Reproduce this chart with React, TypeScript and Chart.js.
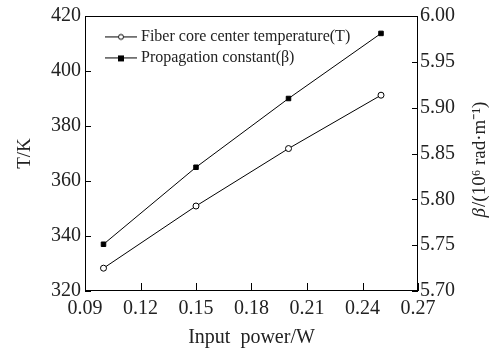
import React, { useEffect, useRef } from 'react';
import { Chart, registerables } from 'chart.js';

Chart.register(...registerables);

const inputPower = [0.1, 0.15, 0.2, 0.25];
const coreTemperature = [328.3, 350.9, 371.8, 391.2];
const propagationConstant = [5.751, 5.835, 5.91, 5.981];
const xTicks = [0.09, 0.12, 0.15, 0.18, 0.21, 0.24, 0.27];
const tTicks = [320, 340, 360, 380, 400, 420];
const betaTicks = [5.7, 5.75, 5.8, 5.85, 5.9, 5.95, 6.0];
const seriesLabels = ['Fiber core center temperature(T)', 'Propagation constant(β)'];
const xTitle = 'Input  power/W';
const leftTitle = 'T/K';
const rightTitleItalic = 'β';
const rightTitleRest = '/(10⁶ rad·m⁻¹)';

const SERIF = '"Liberation Serif", "Times New Roman", serif';
const LEGEND_PAD = 5;

function makeSample(kind: 'circle' | 'square') {
  const c = document.createElement('canvas');
  c.width = 32;
  c.height = 10;
  const g = c.getContext('2d')!;
  g.strokeStyle = '#000';
  g.lineWidth = 1;
  g.beginPath();
  g.moveTo(0, 5.5);
  g.lineTo(32, 5.5);
  g.stroke();
  if (kind === 'circle') {
    g.beginPath();
    g.arc(16, 5.5, 2.5, 0, Math.PI * 2);
    g.fillStyle = '#fff';
    g.fill();
    g.stroke();
  } else {
    g.fillStyle = '#000';
    g.fillRect(13, 3, 6, 6);
  }
  return c;
}

const legendShift = {
  id: 'legendShift',
  afterLayout(chart: any) {
    const L = chart.legend;
    if (!L) return;
    const dx = 104 - L.left;
    const dy = 38 - 9.6 - LEGEND_PAD - L.top;
    L.left += dx;
    L.right += dx;
    L.top += dy;
    L.bottom += dy;
  },
};

const framePlugin = {
  id: 'frame',
  afterDraw(chart: any) {
    const { ctx, chartArea } = chart;
    const { left, right, top, bottom } = chartArea;
    ctx.save();
    ctx.strokeStyle = '#000';
    ctx.lineWidth = 1;
    ctx.strokeRect(left + 0.5, top + 0.5, right - left - 1, bottom - top - 1);
    ctx.beginPath();
    const xs = chart.scales.x;
    xs.ticks.forEach((t: any) => {
      const px = Math.round(xs.getPixelForValue(t.value)) + 0.5;
      ctx.moveTo(px, bottom);
      ctx.lineTo(px, bottom - 8);
    });
    const ys = chart.scales.y;
    ys.ticks.forEach((t: any) => {
      const py = Math.round(ys.getPixelForValue(t.value)) + 0.5;
      ctx.moveTo(left, py);
      ctx.lineTo(left + 6, py);
    });
    const y1 = chart.scales.y1;
    y1.ticks.forEach((t: any) => {
      const py = Math.round(y1.getPixelForValue(t.value)) + 0.5;
      ctx.moveTo(right, py);
      ctx.lineTo(right - 6, py);
    });
    ctx.stroke();

    // right axis title, reading bottom-to-top
    ctx.translate(480, 160);
    ctx.rotate(-Math.PI / 2);
    ctx.fillStyle = '#222';
    ctx.textBaseline = 'middle';
    ctx.font = `italic 19px ${SERIF}`;
    const w1 = ctx.measureText(rightTitleItalic).width;
    ctx.font = `19px ${SERIF}`;
    const w2 = ctx.measureText(rightTitleRest).width;
    const start = -(w1 + w2) / 2;
    ctx.textAlign = 'left';
    ctx.font = `italic 19px ${SERIF}`;
    ctx.fillText(rightTitleItalic, start, 0);
    ctx.font = `19px ${SERIF}`;
    ctx.fillText(rightTitleRest, start + w1 + 1, 0);
    ctx.restore();
  },
};

export default function App() {
  const ref = useRef<HTMLCanvasElement>(null);
  useEffect(() => {
    const samples = [makeSample('circle'), makeSample('square')];
    const chart = new Chart(ref.current!, {
      type: 'line',
      data: {
        datasets: [
          {
            label: seriesLabels[0],
            data: inputPower.map((x, i) => ({ x, y: coreTemperature[i] })),
            yAxisID: 'y',
            borderColor: '#000',
            borderWidth: 1,
            pointStyle: 'circle',
            pointRadius: 3,
            pointBackgroundColor: '#fff',
            pointBorderColor: '#000',
            pointBorderWidth: 1,
            tension: 0,
          },
          {
            label: seriesLabels[1],
            data: inputPower.map((x, i) => ({ x, y: propagationConstant[i] })),
            yAxisID: 'y1',
            borderColor: '#000',
            borderWidth: 1,
            pointStyle: 'rect',
            pointRadius: 3.2,
            pointBackgroundColor: '#000',
            pointBorderColor: '#000',
            pointBorderWidth: 1,
            tension: 0,
          },
        ],
      },
      options: {
        animation: false,
        responsive: false,
        layout: { padding: { top: 13, left: 0, right: 0, bottom: 0 } },
        plugins: {
          tooltip: { enabled: false },
          legend: {
            position: 'chartArea' as any,
            align: 'start',
            labels: {
              usePointStyle: true,
              pointStyleWidth: 24,
              padding: LEGEND_PAD,
              color: '#222',
              font: { family: SERIF, size: 16 },
              generateLabels: (ch: any) =>
                ch.data.datasets.map((ds: any, i: number) => ({
                  text: ds.label,
                  pointStyle: samples[i],
                  fillStyle: '#000',
                  strokeStyle: '#000',
                  lineWidth: 0,
                  hidden: false,
                  datasetIndex: i,
                  fontColor: '#222',
                })),
            },
          },
        },
        scales: {
          x: {
            type: 'linear',
            min: xTicks[0],
            max: xTicks[xTicks.length - 1],
            afterBuildTicks: (s: any) => {
              s.ticks = xTicks.map((v) => ({ value: v }));
            },
            afterFit: (s: any) => {
              s.height = 60;
            },
            grid: { display: false, drawTicks: false },
            border: { display: false },
            ticks: {
              padding: 6,
              color: '#222',
              maxRotation: 0,
              autoSkip: false,
              font: { family: SERIF, size: 20 },
              callback: (v: any) => Number(v).toFixed(2),
            },
            title: {
              display: true,
              text: xTitle,
              color: '#222',
              font: { family: SERIF, size: 20 },
              padding: { top: 0, bottom: 1 },
            },
          },
          y: {
            type: 'linear',
            position: 'left',
            min: tTicks[0],
            max: tTicks[tTicks.length - 1],
            afterBuildTicks: (s: any) => {
              s.ticks = tTicks.map((v) => ({ value: v }));
            },
            afterFit: (s: any) => {
              s.width = 85;
            },
            grid: { display: false, drawTicks: false },
            border: { display: false },
            ticks: {
              padding: 4,
              color: '#222',
              font: { family: SERIF, size: 20 },
              callback: (v: any) => String(v),
            },
            title: {
              display: true,
              text: leftTitle,
              color: '#222',
              font: { family: SERIF, size: 19 },
              padding: { top: 14, bottom: 0 },
            },
          },
          y1: {
            type: 'linear',
            position: 'right',
            min: betaTicks[0],
            max: betaTicks[betaTicks.length - 1],
            afterBuildTicks: (s: any) => {
              s.ticks = betaTicks.map((v) => ({ value: v }));
            },
            afterFit: (s: any) => {
              s.width = 79;
            },
            grid: { display: false, drawTicks: false },
            border: { display: false },
            ticks: {
              padding: 2,
              color: '#222',
              font: { family: SERIF, size: 20 },
              callback: (v: any) => Number(v).toFixed(2),
            },
          },
        },
      },
      plugins: [legendShift, framePlugin],
    });
    return () => chart.destroy();
  }, []);
  return (
    <div style={{ position: 'fixed', left: 0, top: 0, width: 497, height: 351, background: '#fff' }}>
      <canvas ref={ref} width={497} height={351} />
    </div>
  );
}
